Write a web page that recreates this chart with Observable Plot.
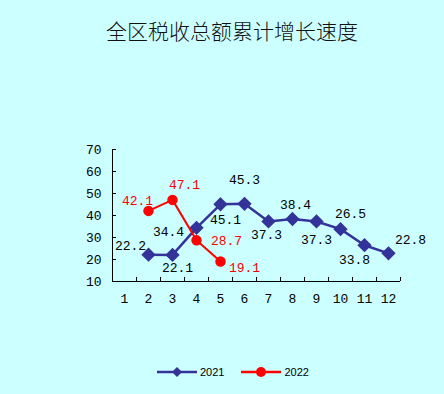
<!DOCTYPE html>
<html><head><meta charset="utf-8">
<script src="https://cdn.jsdelivr.net/npm/d3@7"></script>
<script src="https://cdn.jsdelivr.net/npm/@observablehq/plot@0.6"></script>
<style>
html,body{margin:0;padding:0;background:#CCFFFF;}
#wrap{position:relative;width:444px;height:394px;overflow:hidden;background:#CCFFFF;}
#title{position:absolute;left:0;width:464px;top:16px;text-align:center;font-family:"Noto Sans CJK SC";font-weight:300;font-size:21px;color:#111;line-height:28px;}
#legend{position:absolute;top:366px;left:157px;font-family:"Liberation Sans",Arial;font-size:11px;color:#000;display:flex;align-items:center;}
.item{display:flex;align-items:center;margin-right:17px;}
.item svg{margin-right:3px;}
#chart{position:absolute;left:0;top:0;}
</style></head>
<body><div id="wrap"><div id="title">全区税收总额累计增长速度</div><div id="chart"></div><div id="legend"></div></div>
<script>
const months = [1,2,3,4,5,6,7,8,9,10,11,12];
const yTicks = [10,20,30,40,50,60,70];
const months2021 = [2,3,4,5,6,7,8,9,10,11,12];
const values2021 = [22.2,22.1,34.4,45.1,45.3,37.3,38.4,37.3,33.8,26.5,22.8];
const months2022 = [2,3,4,5];
const values2022 = [42.1,47.1,28.7,19.1];
const seriesNames = ["2021","2022"];
const colors = ["#333399","#FF0000"];

// label offsets (style only)
const off2021 = [[-18,-9],[5,13],[-28,4],[5,16],[0,-24],[-2,13],[3,-14],[0,18],[14,31],[-14,-31],[22,-14]];
const off2022 = [[-11,-10],[12,-15],[30,0],[24,6]];

const d21 = months2021.map((m,i)=>({m, v: values2021[i], dx: off2021[i][0], dy: off2021[i][1]}));
const d22 = months2022.map((m,i)=>({m, v: values2022[i], dx: off2022[i][0], dy: off2022[i][1]}));
const bounds = [months[0]-0.5, ...months.map(m=>m+0.5)];
const font = "Liberation Mono";

const labelMarks = (data, color) => data.map(d => Plot.text([d], {x:"m", y:"v", text: d=>d.v.toFixed(1), dx:d.dx, dy:d.dy, fill:color, fontSize:13, fontFamily:font}));

const plot = Plot.plot({
  width:444, height:394,
  marginLeft:112, marginRight:44, marginTop:149, marginBottom:113,
  style:{background:"transparent", fontFamily:font, fontSize:"13px", color:"#000", overflow:"visible"},
  x:{type:"linear", domain:[0.5,12.5], axis:null},
  y:{type:"linear", domain:[10,70], axis:null},
  marks:[
    Plot.ruleX([0.5], {stroke:"#000", strokeWidth:1}),
    Plot.ruleY([10], {stroke:"#000", strokeWidth:1}),
    Plot.axisY({ticks:yTicks, label:null, tickSize:-4, tickPadding:15, tickFormat:d=>String(d), fontSize:13, fontFamily:font, stroke:"#000"}),
    Plot.ruleX(bounds, {x:d=>d, y1:10, y2:11.8, stroke:"#000"}),
    Plot.text(months, {x:d=>d, frameAnchor:"bottom", dy:21, text:d=>String(d), fontSize:13, fontFamily:font, fill:"#000"}),
    Plot.line(d21, {x:"m", y:"v", stroke:colors[0], strokeWidth:2.5}),
    Plot.dot(d21, {x:"m", y:"v", symbol:"diamond2", r:5.5, fill:colors[0], stroke:colors[0]}),
    Plot.line(d22, {x:"m", y:"v", stroke:colors[1], strokeWidth:2}),
    Plot.dot(d22, {x:"m", y:"v", r:4.5, fill:colors[1], stroke:colors[1]}),
    ...labelMarks(d21, "#000"),
    ...labelMarks(d22, "#FF0000")
  ]
});
document.getElementById("chart").appendChild(plot);

const leg = document.getElementById("legend");
seriesNames.forEach((name,i)=>{
  const it = document.createElement("div"); it.className="item";
  const marker = i===0
    ? `<polygon points="20,0 25,5 20,10 15,5" fill="${colors[i]}"/>`
    : `<circle cx="20" cy="5" r="5" fill="${colors[i]}"/>`;
  it.innerHTML = `<svg width="40" height="10"><line x1="0" x2="40" y1="5" y2="5" stroke="${colors[i]}" stroke-width="2.5"/>${marker}</svg><span>${name}</span>`;
  leg.appendChild(it);
});
</script></body></html>
